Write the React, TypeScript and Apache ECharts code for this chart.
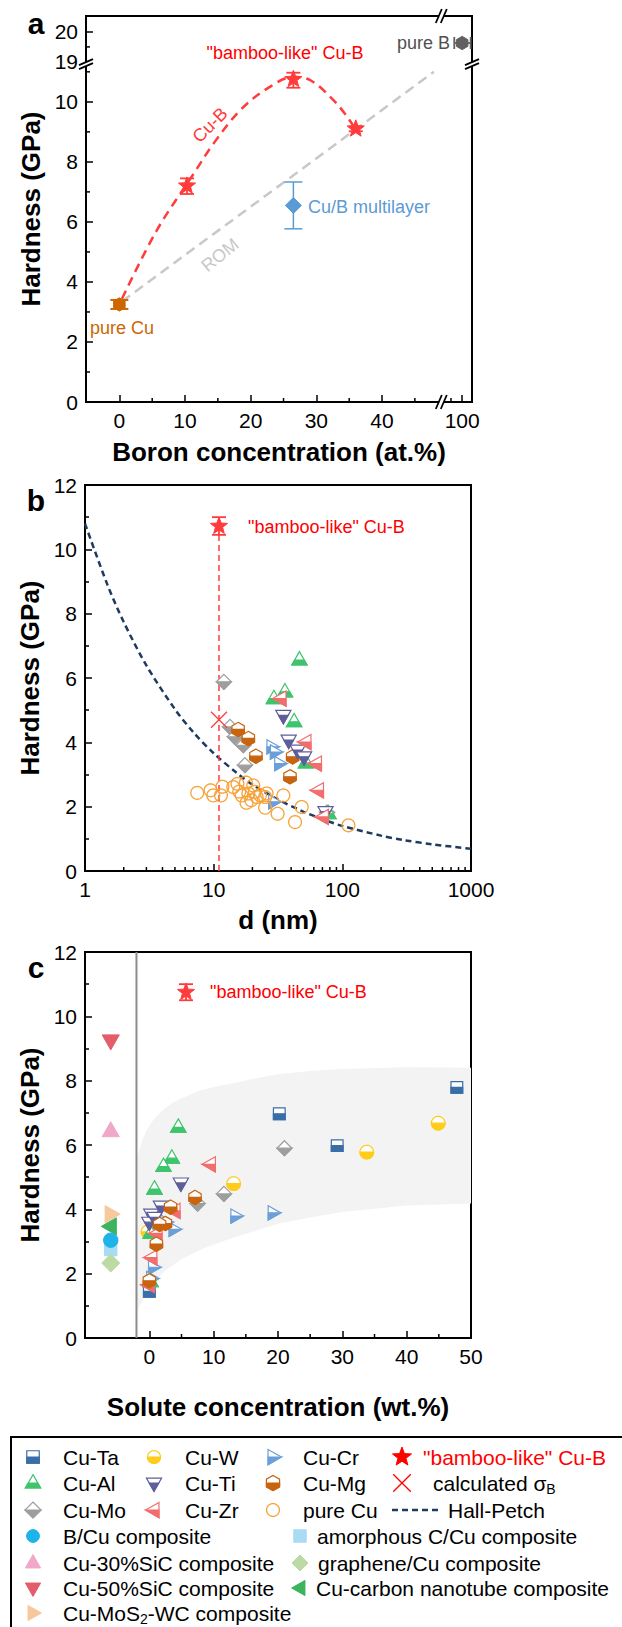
import React, { useEffect, useRef } from 'react';
import * as echarts from 'echarts';

const FONT = "'Liberation Sans', Arial, Helvetica, sans-serif";

// ================= Panel a : hardness vs boron concentration (broken axes) =================
const A_X_SHIFT = 47.8; // x beyond the break is drawn at x - 47.8
const A_Y_SHIFT = 7.67; // y beyond the break is drawn at y - 7.67
const A_X_MIN = -5.08;
const A_X_MAX = 53.7;
const A_Y_MAX = 12.86;
const A_BREAK_X = 49.1;
const A_BREAK_Y = 11.29;

const aXTickLabels = [0, 10, 20, 30, 40, 100];
const aXMinorTicks = [5, 15, 25, 35, 45, 98.3];
const aYTickLabels = [0, 2, 4, 6, 8, 10, 19, 20];
const aYMinorTicks = [1, 3, 5, 7, 9, 11, 19.5];

const aPureCu = [[0, 3.25]];
const aPureCuErr = [[0, 3.1, 3.4]];
const aCuB = [[10.3, 7.2], [26.5, 10.75], [36, 9.1]];
const aCuBErr = [[10.3, 6.93, 7.45], [26.5, 10.47, 10.97], [36, 9.02, 9.18]];
const aCuBCurve = [
  [0.4, 3.44], [5.7, 5.72], [11.3, 7.6], [14.3, 8.6], [18.4, 9.72], [22.5, 10.44],
  [26.5, 10.83], [29.1, 10.72], [32.6, 10.06], [34.7, 9.5], [35.9, 9.11],
];
const aROM = [[0.4, 3.35], [47.9, 11.0]];
const aMultilayer = [[26.5, 6.55]];
const aMultilayerErr = [[26.5, 5.77, 7.33]];
const aPureB = [[100, 19.63]];
const aPureBErr = [[19.63, 98.8, 101.3]]; // [y, xLow, xHigh]

// ================= Panel b : hardness vs grain size d (log) =================
const bMinorTicks = [2, 3, 4, 5, 6, 7, 8, 9, 20, 30, 40, 50, 60, 70, 80, 90, 200, 300, 400, 500, 600, 700, 800, 900];
const bHallPetch = [
  [1, 10.8], [1.5, 8.88], [2, 7.74], [3, 6.39], [5, 5.03], [7, 4.3], [10, 3.66], [15, 3.06],
  [20, 2.69], [30, 2.27], [50, 1.84], [70, 1.61], [100, 1.4], [200, 1.1], [300, 0.96], [500, 0.83], [1000, 0.69],
];
const bRefLine = [[11, 0], [11, 10.45]];
const bCuB = [[11, 10.72]];
const bCuBErr = [[11, 10.45, 11.0]];
const bSigma = [[11, 4.7]];
const bPureCu = [
  [7.45, 2.43], [9.46, 2.51], [9.93, 2.35], [11.4, 2.35], [11.7, 2.62], [14.2, 2.61], [15.3, 2.71],
  [15.8, 2.47], [16.5, 2.35], [17.8, 2.75], [18.0, 2.12], [18.6, 2.41], [19.6, 2.2], [20.3, 2.66],
  [20.9, 2.46], [21.6, 2.3], [22.9, 2.36], [25.1, 2.3], [25.8, 2.41], [25.1, 1.97], [31.4, 1.78],
  [34.8, 2.35], [42.9, 1.52], [48.3, 1.99], [111.6, 1.42],
];
const bCuMo = [[12.0, 5.88], [13.4, 4.48], [14.6, 4.17], [17.0, 3.91], [17.5, 3.29], [76, 1.82]];
const bCuMg = [[15.5, 4.4], [18.6, 4.12], [21.3, 3.57], [41.1, 3.55], [39.2, 2.93]];
const bCuAl = [[46.4, 6.56], [35.8, 5.57], [29.4, 5.36], [42.2, 4.64], [52.2, 3.36], [78, 1.78]];
const bCuZr = [[33.4, 5.36], [52.2, 4.01], [63, 3.34], [65.3, 2.51], [71.3, 1.68]];
const bCuTi = [[34.8, 4.84], [38.3, 4.07], [45, 3.76], [50.4, 3.55], [74, 1.85]];
const bCuCr = [[28.2, 3.86], [30, 3.7], [32.4, 3.34], [29.1, 2.15]];

// ================= Panel c : hardness vs solute concentration =================
const cMinorTicks = [5, 15, 25, 35, 45];
const cGrayLine = [[-2, 0], [-2, 12]];
const cBandUpper = [
  [-2, 5.55], [-1.5, 5.9], [-1, 6.2], [-0.3, 6.5], [0.5, 6.75], [1.5, 6.97], [2.5, 7.15], [3.5, 7.3],
  [5, 7.45], [8, 7.7], [10, 7.8], [13, 7.92], [16, 8.05], [20, 8.2], [25, 8.3], [30, 8.36], [40, 8.42], [50, 8.4],
];
const cBandLower = [
  [-2, 0.8], [-1, 1.2], [0, 1.55], [1, 1.8], [2.5, 2.1], [5, 2.45], [8, 2.75], [10, 2.9], [13, 3.12],
  [16, 3.3], [20, 3.55], [25, 3.75], [30, 3.92], [40, 4.12], [50, 4.18],
];
const cCuB = [[5.7, 10.75]];
const cCuBErr = [[5.7, 10.5, 11.0]];
const cCuTa = [[20.2, 6.97], [29.2, 5.98], [47.8, 7.79], [0, 1.45]];
const cCuW = [[13.1, 4.8], [33.8, 5.78], [44.9, 6.68], [-0.2, 3.3]];
const cCuCr = [[13.4, 3.79], [19.2, 3.89], [3.8, 3.38], [0.6, 2.2], [1.5, 3.7], [2.5, 3.6], [0.3, 1.85]];
const cCuAl = [[4.5, 6.55], [3.5, 5.59], [2.2, 5.33], [0.8, 4.63], [0.2, 3.25], [0.2, 1.75]];
const cCuTi = [[4.9, 4.82], [0.3, 3.85], [0, 3.6], [1.8, 4.1], [0.8, 3.75]];
const cCuMg = [[7.1, 4.37], [3.3, 4.07], [2.5, 3.56], [1.6, 3.53], [1.1, 2.92], [0, 1.78]];
const cCuMo = [[21, 5.9], [11.6, 4.48], [7.5, 4.18]];
const cCuZr = [[9.5, 5.4], [4, 3.95], [1.2, 3.25], [0.4, 2.5], [0, 1.65]];
const cSiC50 = [[-6, 9.25]];
const cSiC30 = [[-6, 6.43]];
const cMoS2WC = [[-6, 3.85]];
const cCNT = [[-6, 3.47]];
const cAmC = [[-6, 2.75]];
const cBCu = [[-6, 3.04]];
const cGraphene = [[-6, 2.33]];

// ================= styles =================
const COL = {
  ta: '#3a6ea8', w: '#ffcc1a', cr: '#6b9fd8', al: '#3ec46d', ti: '#5e5e9c', mg: '#c8640f',
  mo: '#9e9e9e', zr: '#f26d6d', cu: '#f7a23a', hp: '#1f3a5f', red: '#ff0000', redLine: '#ff3b3b',
  bcu: '#1eb4ea', amc: '#a8dcf4', sic30: '#f0a8c8', gr: '#bcdaa4', sic50: '#e35d6a', cnt: '#3cb35c',
  mos2: '#f7c89c', pureCuA: '#cc6600', pureB: '#606060', multi: '#5b9bd5', rom: '#c8c8c8',
};

const tx = (x: number) => (x > 60 ? x - A_X_SHIFT : x);
const ty = (y: number) => (y > 15 ? y - A_Y_SHIFT : y);
const T = (arr: number[][]) => arr.map(([x, y]) => [tx(x), ty(y)]);

function shapePoints(shape: string, cx: number, cy: number, r: number) {
  const pts: number[][] = [];
  const add = (dx: number, dy: number) => pts.push([cx + dx * r, cy + dy * r]);
  if (shape === 'square') { add(-0.78, -0.78); add(0.78, -0.78); add(0.78, 0.78); add(-0.78, 0.78); }
  else if (shape === 'diamond') { add(0, -1); add(1, 0); add(0, 1); add(-1, 0); }
  else if (shape === 'triUp') { add(0, -1.05); add(0.95, 0.62); add(-0.95, 0.62); }
  else if (shape === 'triDown') { add(-0.95, -0.62); add(0.95, -0.62); add(0, 1.05); }
  else if (shape === 'triRight') { add(-0.62, -0.95); add(1.05, 0); add(-0.62, 0.95); }
  else if (shape === 'triLeft') { add(0.62, -0.95); add(-1.05, 0); add(0.62, 0.95); }
  else if (shape === 'hexagon') {
    for (let k = 0; k < 6; k++) { const a = -Math.PI / 2 + (k * Math.PI) / 3; add(Math.cos(a) * 0.95, Math.sin(a) * 0.95); }
  } else if (shape === 'star') {
    for (let k = 0; k < 10; k++) { const a = -Math.PI / 2 + (k * Math.PI) / 5; const m = k % 2 === 0 ? 1 : 0.42; add(Math.cos(a) * m, Math.sin(a) * m); }
  } else {
    for (let k = 0; k < 32; k++) { const a = (k * Math.PI) / 16; add(Math.cos(a) * 0.8, Math.sin(a) * 0.8); }
  }
  return pts;
}

function clipBelow(pts: number[][], c: number) {
  const out: number[][] = [];
  for (let i = 0; i < pts.length; i++) {
    const a = pts[i];
    const b = pts[(i + 1) % pts.length];
    const ain = a[1] >= c;
    const bin = b[1] >= c;
    if (ain) out.push(a);
    if (ain !== bin) {
      const t = (c - a[1]) / (b[1] - a[1]);
      out.push([a[0] + t * (b[0] - a[0]), c]);
    }
  }
  return out;
}

function glyph(shape: string, x: number, y: number, r: number, color: string, mode: string): any[] {
  if (mode === 'cross') {
    const d = r * 0.8;
    const st = { stroke: color, lineWidth: 1.3 };
    return [
      { type: 'line', shape: { x1: x - d, y1: y - d, x2: x + d, y2: y + d }, style: st },
      { type: 'line', shape: { x1: x - d, y1: y + d, x2: x + d, y2: y - d }, style: st },
    ];
  }
  const pts = shapePoints(shape, x, y, r);
  if (mode === 'half') {
    return [
      { type: 'polygon', shape: { points: pts }, style: { fill: '#ffffff', stroke: color, lineWidth: 1.2 } },
      { type: 'polygon', shape: { points: clipBelow(pts, y) }, style: { fill: color, stroke: color, lineWidth: 1.2 } },
    ];
  }
  if (mode === 'open') {
    return [{ type: 'polygon', shape: { points: pts }, style: { fill: 'none', stroke: color, lineWidth: 1.3 } }];
  }
  return [{ type: 'polygon', shape: { points: pts }, style: { fill: color, stroke: color, lineWidth: 1 } }];
}

function markers(data: number[][], shape: string, color: string, axis: number, mode: string, r: number, z = 10) {
  return {
    type: 'custom', xAxisIndex: axis, yAxisIndex: axis, data, z, clip: false, silent: true,
    renderItem: (_p: any, api: any) => {
      const c = api.coord([api.value(0), api.value(1)]);
      return { type: 'group', children: glyph(shape, c[0], c[1], r, color, mode) };
    },
  };
}

function vErr(data: number[][], color: string, axis: number, capW: number, lw = 1.5, z = 9) {
  return {
    type: 'custom', xAxisIndex: axis, yAxisIndex: axis, data, z, clip: false, silent: true,
    renderItem: (_p: any, api: any) => {
      const a = api.coord([api.value(0), api.value(1)]);
      const b = api.coord([api.value(0), api.value(2)]);
      const st = { stroke: color, lineWidth: lw };
      return {
        type: 'group', children: [
          { type: 'line', shape: { x1: a[0], y1: a[1], x2: b[0], y2: b[1] }, style: st },
          { type: 'line', shape: { x1: a[0] - capW / 2, y1: a[1], x2: a[0] + capW / 2, y2: a[1] }, style: st },
          { type: 'line', shape: { x1: b[0] - capW / 2, y1: b[1], x2: b[0] + capW / 2, y2: b[1] }, style: st },
        ],
      };
    },
  };
}

function hErr(data: number[][], color: string, axis: number, capH: number, lw = 1.5, z = 9) {
  return {
    type: 'custom', xAxisIndex: axis, yAxisIndex: axis, data, z, clip: false, silent: true,
    renderItem: (_p: any, api: any) => {
      const a = api.coord([api.value(1), api.value(0)]);
      const b = api.coord([api.value(2), api.value(0)]);
      const st = { stroke: color, lineWidth: lw };
      return {
        type: 'group', children: [
          { type: 'line', shape: { x1: a[0], y1: a[1], x2: b[0], y2: b[1] }, style: st },
          { type: 'line', shape: { x1: a[0], y1: a[1] - capH / 2, x2: a[0], y2: a[1] + capH / 2 }, style: st },
          { type: 'line', shape: { x1: b[0], y1: b[1] - capH / 2, x2: b[0], y2: b[1] + capH / 2 }, style: st },
        ],
      };
    },
  };
}

function lineSeries(data: number[][], color: string, axis: number, width: number, dash: any, smooth: any = false, z = 3) {
  return {
    type: 'line', xAxisIndex: axis, yAxisIndex: axis, data, showSymbol: false, symbol: 'none',
    smooth, silent: true, z, lineStyle: { color, width, type: dash },
  };
}

function xMinor(values: number[], axis: number, yBase: number, len = 4) {
  return {
    type: 'custom', xAxisIndex: axis, yAxisIndex: axis, data: values.map((v) => [v, yBase]), z: 20, clip: false, silent: true,
    renderItem: (_p: any, api: any) => {
      const c = api.coord([api.value(0), api.value(1)]);
      return { type: 'line', shape: { x1: c[0], y1: c[1], x2: c[0], y2: c[1] - len }, style: { stroke: '#000', lineWidth: 1.5 } };
    },
  };
}

function yMinor(values: number[], axis: number, xBase: number, len = 4) {
  return {
    type: 'custom', xAxisIndex: axis, yAxisIndex: axis, data: values.map((v) => [xBase, v]), z: 20, clip: false, silent: true,
    renderItem: (_p: any, api: any) => {
      const c = api.coord([api.value(0), api.value(1)]);
      return { type: 'line', shape: { x1: c[0], y1: c[1], x2: c[0] + len, y2: c[1] }, style: { stroke: '#000', lineWidth: 1.5 } };
    },
  };
}

function bandSeries(upper: number[][], lower: number[][], axis: number, color: string) {
  return {
    type: 'custom', xAxisIndex: axis, yAxisIndex: axis, data: [[upper[0][0], upper[0][1]]], z: 1, clip: true, silent: true,
    renderItem: (_p: any, api: any) => {
      const pts = upper.map((p) => api.coord(p)).concat(lower.slice().reverse().map((p) => api.coord(p)));
      return { type: 'polygon', shape: { points: pts }, style: { fill: color } };
    },
  };
}

const tickStyle = { show: true, inside: true, length: 7, lineStyle: { color: '#000', width: 1.5 } };
const labelStyle = { color: '#000', fontSize: 21, fontFamily: FONT, margin: 8 };
const lineStyleAxis = { show: true, onZero: false, lineStyle: { color: '#000', width: 2 } };
const nameStyle = { color: '#000', fontSize: 26, fontWeight: 'bold', fontFamily: FONT };

function buildOption() {
  const gridBase = { width: 386, height: 386, show: true, borderColor: '#000', borderWidth: 2, backgroundColor: 'transparent', outerBoundsMode: 'none', containLabel: false };
  const R = 7.5;
  return {
    animation: false,
    backgroundColor: '#ffffff',
    grid: [
      { ...gridBase, left: 86, top: 16 },
      { ...gridBase, left: 85, top: 485 },
      { ...gridBase, left: 85, top: 952 },
    ],
    xAxis: [
      {
        gridIndex: 0, type: 'value', min: A_X_MIN, max: A_X_MAX,
        axisLine: lineStyleAxis, splitLine: { show: false },
        axisTick: { ...tickStyle, customValues: aXTickLabels.map(tx) },
        axisLabel: {
          ...labelStyle, customValues: aXTickLabels.map(tx),
          formatter: (v: number) => String(Math.round(v > 50 ? v + A_X_SHIFT : v)),
        },
        name: 'Boron concentration (at.%)', nameLocation: 'middle', nameGap: 37, nameTextStyle: nameStyle,
      },
      {
        gridIndex: 1, type: 'log', logBase: 10, min: 1, max: 1000,
        axisLine: lineStyleAxis, splitLine: { show: false }, axisTick: tickStyle,
        axisLabel: { ...labelStyle, formatter: (v: number) => String(Math.round(v)) },
        minorTick: { show: false },
        name: 'd (nm)', nameLocation: 'middle', nameGap: 36, nameTextStyle: nameStyle,
      },
      {
        gridIndex: 2, type: 'value', min: -10, max: 50, interval: 10,
        axisLine: lineStyleAxis, splitLine: { show: false }, axisTick: tickStyle,
        axisLabel: { ...labelStyle, formatter: (v: number) => (v < 0 ? '' : String(v)) },
        name: 'Solute concentration (wt.%)', nameLocation: 'middle', nameGap: 56, nameTextStyle: nameStyle,
      },
    ],
    yAxis: [
      {
        gridIndex: 0, type: 'value', min: 0, max: A_Y_MAX,
        axisLine: lineStyleAxis, splitLine: { show: false },
        axisTick: { ...tickStyle, customValues: aYTickLabels.map(ty) },
        axisLabel: {
          ...labelStyle, customValues: aYTickLabels.map(ty),
          formatter: (v: number) => String(Math.round(v > 11.3 ? v + A_Y_SHIFT : v)),
        },
        name: 'Hardness (GPa)', nameLocation: 'middle', nameGap: 36, nameTextStyle: nameStyle,
      },
      {
        gridIndex: 1, type: 'value', min: 0, max: 12, interval: 2,
        axisLine: lineStyleAxis, splitLine: { show: false }, axisTick: tickStyle, axisLabel: labelStyle,
        minorTick: { show: true, splitNumber: 2, length: 4, lineStyle: { color: '#000', width: 1.5 } },
        name: 'Hardness (GPa)', nameLocation: 'middle', nameGap: 36, nameTextStyle: nameStyle,
      },
      {
        gridIndex: 2, type: 'value', min: 0, max: 12, interval: 2,
        axisLine: lineStyleAxis, splitLine: { show: false }, axisTick: tickStyle, axisLabel: labelStyle,
        minorTick: { show: true, splitNumber: 2, length: 4, lineStyle: { color: '#000', width: 1.5 } },
        name: 'Hardness (GPa)', nameLocation: 'middle', nameGap: 36, nameTextStyle: nameStyle,
      },
    ],
    series: [
      // ----- panel a -----
      xMinor(aXMinorTicks.map(tx), 0, 0),
      yMinor(aYMinorTicks.map(ty), 0, A_X_MIN),
      lineSeries(T(aROM), COL.rom, 0, 2.5, [10, 6], false, 2),
      lineSeries(T(aCuBCurve), COL.redLine, 0, 2.5, [9, 6], 0.35, 3),
      vErr(aPureCuErr, COL.pureCuA, 0, 18, 2),
      markers(T(aPureCu), 'hexagon', COL.pureCuA, 0, 'fill', 7),
      vErr(aMultilayerErr, COL.multi, 0, 18, 1.5),
      markers(T(aMultilayer), 'diamond', COL.multi, 0, 'fill', 8),
      vErr(aCuBErr, COL.redLine, 0, 14, 1.8),
      markers(T(aCuB), 'star', COL.redLine, 0, 'fill', 9),
      hErr(aPureBErr.map(([y, x1, x2]) => [ty(y), tx(x1), tx(x2)]), COL.pureB, 0, 12, 1.8),
      markers(T(aPureB), 'hexagon', COL.pureB, 0, 'fill', 7),
      // ----- panel b -----
      xMinor(bMinorTicks, 1, 0),
      lineSeries(bHallPetch, COL.hp, 1, 2.5, [6, 4], 0.3, 2),
      lineSeries(bRefLine, COL.redLine, 1, 1.5, [6, 4], false, 2),
      markers(bCuCr, 'triRight', COL.cr, 1, 'half', R),
      markers(bPureCu, 'circle', COL.cu, 1, 'open', 8),
      markers(bCuMo, 'diamond', COL.mo, 1, 'half', R),
      markers(bCuMg, 'hexagon', COL.mg, 1, 'half', R),
      markers(bCuAl, 'triUp', COL.al, 1, 'half', 8),
      markers(bCuTi, 'triDown', COL.ti, 1, 'half', 8),
      markers(bCuZr, 'triLeft', COL.zr, 1, 'half', 8),
      markers(bSigma, 'x', COL.redLine, 1, 'cross', 10),
      vErr(bCuBErr, COL.redLine, 1, 14, 1.8),
      markers(bCuB, 'star', COL.redLine, 1, 'fill', 9),
      // ----- panel c -----
      bandSeries(cBandUpper, cBandLower, 2, '#f3f3f3'),
      xMinor(cMinorTicks, 2, 0),
      lineSeries(cGrayLine, '#8c8c8c', 2, 2, 'solid', false, 2),
      markers(cSiC50, 'triDown', COL.sic50, 2, 'fill', 9),
      markers(cSiC30, 'triUp', COL.sic30, 2, 'fill', 9),
      markers(cMoS2WC, 'triRight', COL.mos2, 2, 'fill', 9),
      markers(cCNT, 'triLeft', COL.cnt, 2, 'fill', 9),
      markers(cAmC, 'square', COL.amc, 2, 'fill', 8),
      markers(cBCu, 'circle', COL.bcu, 2, 'fill', 9),
      markers(cGraphene, 'diamond', COL.gr, 2, 'fill', 9),
      markers(cCuTa, 'square', COL.ta, 2, 'half', 7.5),
      markers(cCuW, 'circle', COL.w, 2, 'half', 8.5),
      markers(cCuCr, 'triRight', COL.cr, 2, 'half', R),
      markers(cCuAl, 'triUp', COL.al, 2, 'half', 8),
      markers(cCuTi, 'triDown', COL.ti, 2, 'half', 8),
      markers(cCuZr, 'triLeft', COL.zr, 2, 'half', 8),
      markers(cCuMo, 'diamond', COL.mo, 2, 'half', R),
      markers(cCuMg, 'hexagon', COL.mg, 2, 'half', R),
      vErr(cCuBErr, COL.redLine, 2, 14, 1.8),
      markers(cCuB, 'star', COL.redLine, 2, 'fill', 9),
    ],
  };
}

function txt(text: string, x: number, y: number, o: any = {}) {
  const align = o.align || 'left';
  return {
    type: 'text', x, y, z: 50, silent: true, rotation: o.rot || 0,
    style: {
      text, fill: o.color || '#000', fontSize: o.size || 21, fontFamily: FONT,
      fontWeight: o.bold ? 'bold' : 'normal',
      align, textAlign: align, verticalAlign: 'middle', textVerticalAlign: 'middle',
      rich: o.rich,
    },
  };
}

function buildGraphics(chart: any) {
  const els: any[] = [];
  // axis breaks on panel a
  const top = chart.convertToPixel({ gridIndex: 0 }, [A_BREAK_X, A_Y_MAX]);
  const bot = chart.convertToPixel({ gridIndex: 0 }, [A_BREAK_X, 0]);
  const lft = chart.convertToPixel({ gridIndex: 0 }, [A_X_MIN, A_BREAK_Y]);
  const rgt = chart.convertToPixel({ gridIndex: 0 }, [A_X_MAX, A_BREAK_Y]);
  const st = { stroke: '#000', lineWidth: 1.8 };
  [top, bot].forEach(([bx, by]: number[]) => {
    els.push({ type: 'polygon', z: 60, silent: true, shape: { points: [[bx - 6, by + 7], [bx, by - 7], [bx + 5, by - 7], [bx - 1, by + 7]] }, style: { fill: '#fff' } });
    els.push({ type: 'line', z: 61, silent: true, shape: { x1: bx - 6, y1: by + 7, x2: bx, y2: by - 7 }, style: st });
    els.push({ type: 'line', z: 61, silent: true, shape: { x1: bx - 1, y1: by + 7, x2: bx + 5, y2: by - 7 }, style: st });
  });
  [lft, rgt].forEach(([bx, by]: number[]) => {
    els.push({ type: 'polygon', z: 60, silent: true, shape: { points: [[bx - 7, by + 2], [bx + 7, by - 4], [bx + 7, by], [bx - 7, by + 6]] }, style: { fill: '#fff' } });
    els.push({ type: 'line', z: 61, silent: true, shape: { x1: bx - 7, y1: by + 2, x2: bx + 7, y2: by - 4 }, style: st });
    els.push({ type: 'line', z: 61, silent: true, shape: { x1: bx - 7, y1: by + 6, x2: bx + 7, y2: by }, style: st });
  });

  // panel letters
  els.push(txt('a', 36, 23, { size: 30, bold: true, align: 'center' }));
  els.push(txt('b', 36, 500, { size: 30, bold: true, align: 'center' }));
  els.push(txt('c', 36, 967, { size: 30, bold: true, align: 'center' }));

  // panel a annotations
  els.push(txt('"bamboo-like" Cu-B', 285, 53, { size: 18, color: COL.red, align: 'center' }));
  els.push(txt('Cu-B', 210, 125, { size: 18, color: COL.redLine, align: 'center', rot: Math.PI / 4 }));
  els.push(txt('ROM', 220, 255, { size: 18, color: COL.rom, align: 'center', rot: 0.68 }));
  els.push(txt('Cu/B multilayer', 308, 207, { size: 18, color: COL.multi }));
  els.push(txt('pure Cu', 90, 328, { size: 18, color: COL.pureCuA }));
  els.push(txt('pure B', 397, 43, { size: 18, color: '#505050' }));
  // panel b / c annotations
  els.push(txt('"bamboo-like" Cu-B', 248, 527, { size: 18, color: COL.red }));
  els.push(txt('"bamboo-like" Cu-B', 210, 992, { size: 18, color: COL.red }));

  // legend box
  els.push({ type: 'rect', z: 40, silent: true, shape: { x: 11, y: 1437, width: 700, height: 300 }, style: { fill: 'none', stroke: '#000', lineWidth: 2 } });
  const rows = [1457, 1483, 1510, 1536, 1563, 1588, 1613];
  const items: any[] = [
    ['square', COL.ta, 'half', 33, 63, 0, 'Cu-Ta'],
    ['circle', COL.w, 'half', 154, 185, 0, 'Cu-W'],
    ['triRight', COL.cr, 'half', 273, 303, 0, 'Cu-Cr'],
    ['star', COL.red, 'fill', 402, 423, 0, '"bamboo-like" Cu-B', COL.red],
    ['triUp', COL.al, 'half', 33, 63, 1, 'Cu-Al'],
    ['triDown', COL.ti, 'half', 154, 185, 1, 'Cu-Ti'],
    ['hexagon', COL.mg, 'half', 273, 303, 1, 'Cu-Mg'],
    ['x', COL.red, 'cross', 402, 433, 1, null],
    ['diamond', COL.mo, 'half', 33, 63, 2, 'Cu-Mo'],
    ['triLeft', COL.zr, 'half', 154, 185, 2, 'Cu-Zr'],
    ['circle', COL.cu, 'open', 273, 303, 2, 'pure Cu'],
    ['circle', COL.bcu, 'fill', 33, 63, 3, 'B/Cu composite'],
    ['square', COL.amc, 'fill', 300, 317, 3, 'amorphous C/Cu composite'],
    ['triUp', COL.sic30, 'fill', 33, 63, 4, 'Cu-30%SiC composite'],
    ['diamond', COL.gr, 'fill', 300, 318, 4, 'graphene/Cu composite'],
    ['triDown', COL.sic50, 'fill', 33, 63, 5, 'Cu-50%SiC composite'],
    ['triLeft', COL.cnt, 'fill', 300, 316, 5, 'Cu-carbon nanotube composite'],
    ['triRight', COL.mos2, 'fill', 33, 63, 6, null],
  ];
  items.forEach(([shape, color, mode, sx, tX, row, label, tc]) => {
    const y = rows[row];
    const r = mode === 'cross' ? 11 : shape === 'star' ? 10 : 8;
    els.push({ type: 'group', z: 45, silent: true, children: glyph(shape, sx, y, r, color, mode) });
    if (label) els.push(txt(label, tX, y, { color: tc || '#000' }));
  });
  els.push(txt('{a|calculated σ}{b|B}', 433, rows[1], {
    rich: { a: { fontSize: 21, fontFamily: FONT, fill: '#000' }, b: { fontSize: 14, fontFamily: FONT, fill: '#000', padding: [12, 0, 0, 0] } },
  }));
  els.push({ type: 'line', z: 45, silent: true, shape: { x1: 392, y1: rows[2], x2: 438, y2: rows[2] }, style: { stroke: COL.hp, lineWidth: 2.5, lineDash: [6, 4] } });
  els.push(txt('Hall-Petch', 448, rows[2]));
  els.push(txt('{a|Cu-MoS}{b|2}{a|-WC composite}', 63, rows[6], {
    rich: { a: { fontSize: 21, fontFamily: FONT, fill: '#000' }, b: { fontSize: 14, fontFamily: FONT, fill: '#000', padding: [12, 0, 0, 0] } },
  }));
  return els;
}

export default function App() {
  const ref = useRef<HTMLDivElement>(null);
  useEffect(() => {
    const chart = echarts.init(ref.current as HTMLDivElement, null, { renderer: 'svg' });
    chart.setOption(buildOption() as any);
    chart.setOption({ graphic: { elements: buildGraphics(chart) } } as any);
    return () => chart.dispose();
  }, []);
  return <div ref={ref} style={{ position: 'absolute', left: 0, top: 0, width: 622, height: 1627, background: '#fff' }} />;
}
